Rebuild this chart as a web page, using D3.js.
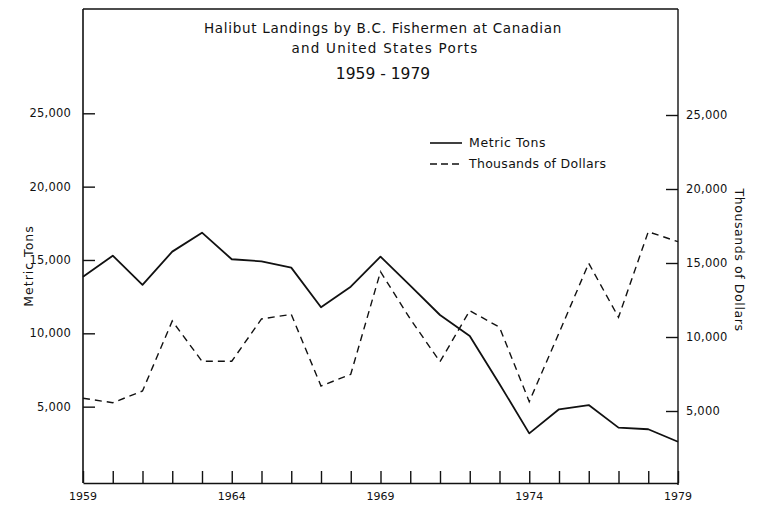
<!DOCTYPE html>
<html><head><meta charset="utf-8">
<script src="https://cdn.jsdelivr.net/npm/d3@7"></script>
<style>
body{margin:0;background:#fff;}
svg{display:block;}
text{font-family:"DejaVu Sans",sans-serif;fill:#111;}
</style></head>
<body><svg id="c" width="758" height="506"></svg>
<script>
const years = d3.range(1959, 1980);
const metricTons = [13860,15290,13300,15570,16860,15050,14910,14480,11780,13180,15230,13250,11250,9820,6550,3180,4820,5110,3570,3460,2610];
const thousandsDollars = [5860,5560,6350,11080,8360,8360,11220,11530,6690,7480,14410,11220,8330,11780,10660,5630,10270,14980,11330,17110,16440];
const yTicks = [5000,10000,15000,20000,25000];
const xLabelYears = [1959,1964,1969,1974,1979];
const titleLines = ["Halibut Landings by B.C. Fishermen at Canadian","and United States Ports","1959 - 1979"];
const seriesNames = ["Metric Tons","Thousands of Dollars"];

const svg = d3.select("#c");
const x = d3.scaleLinear().domain([1959,1979]).range([83,678]);
const yL = d3.scaleLinear().domain([0,25000]).range([480,113.3]);
const yR = d3.scaleLinear().domain([0,25000]).range([485,115]);
const frameTop = 9, frameBottom = 483;
const fmt = d3.format(",");

// frame
svg.append("line").attr("x1",83).attr("x2",678).attr("y1",frameTop).attr("y2",frameTop).attr("stroke","#111").attr("stroke-width",1.5);
svg.append("line").attr("x1",83).attr("x2",83).attr("y1",frameTop).attr("y2",frameBottom).attr("stroke","#111").attr("stroke-width",1.6);
svg.append("line").attr("x1",678).attr("x2",678).attr("y1",frameTop).attr("y2",frameBottom+2).attr("stroke","#111").attr("stroke-width",1.4);

// bottom axis with inward ticks
const gx = svg.append("g").attr("transform",`translate(0,${frameBottom})`)
  .call(d3.axisBottom(x).tickValues(years).tickSizeInner(-12).tickSizeOuter(0).tickFormat(""));
gx.select(".domain").attr("stroke","#111").attr("stroke-width",1.6);
gx.selectAll(".tick line").attr("stroke","#111").attr("stroke-width",1.4);
svg.append("g").selectAll("text").data(xLabelYears).join("text")
  .attr("x",d=>x(d)).attr("y",500).attr("text-anchor","middle")
  .attr("font-size",11).text(d=>d);

// left axis
const gl = svg.append("g").attr("transform","translate(83,0)")
  .call(d3.axisLeft(yL).tickValues(yTicks).tickSizeInner(-12).tickSizeOuter(0).tickFormat(""));
gl.select(".domain").remove();
gl.selectAll(".tick line").attr("stroke","#111").attr("stroke-width",1.4);
svg.append("g").selectAll("text").data(yTicks).join("text")
  .attr("x",71).attr("y",d=>yL(d)).attr("dy","0.35em").attr("text-anchor","end")
  .attr("font-size",11.5).attr("letter-spacing",0.2).text(d=>fmt(d));

// right axis
const gr = svg.append("g").attr("transform","translate(678,0)")
  .call(d3.axisRight(yR).tickValues(yTicks).tickSizeInner(-12).tickSizeOuter(0).tickFormat(""));
gr.select(".domain").remove();
gr.selectAll(".tick line").attr("stroke","#111").attr("stroke-width",1.4);
svg.append("g").selectAll("text").data(yTicks).join("text")
  .attr("x",686).attr("y",d=>yR(d)).attr("dy","0.35em").attr("text-anchor","start")
  .attr("font-size",11.5).attr("letter-spacing",0.2).text(d=>fmt(d));

// axis titles
svg.append("text").attr("transform","translate(33,266) rotate(-90)").attr("text-anchor","middle")
  .attr("font-size",12.5).attr("letter-spacing",1).text(seriesNames[0]);
svg.append("text").attr("transform","translate(735,260) rotate(90)").attr("text-anchor","middle")
  .attr("font-size",12.5).attr("letter-spacing",0.6).text(seriesNames[1]);

// title
svg.append("text").attr("x",383).attr("y",33).attr("text-anchor","middle").attr("font-size",13.5).attr("letter-spacing",0.7).text(titleLines[0]);
svg.append("text").attr("x",385).attr("y",53).attr("text-anchor","middle").attr("font-size",13.5).attr("letter-spacing",1.2).text(titleLines[1]);
svg.append("text").attr("x",383).attr("y",79).attr("text-anchor","middle").attr("font-size",15.5).text(titleLines[2]);

// lines
const lineL = d3.line().x((d,i)=>x(years[i])).y(d=>yL(d));
const lineR = d3.line().x((d,i)=>x(years[i])).y(d=>yR(d));
svg.append("path").datum(metricTons).attr("d",lineL).attr("fill","none").attr("stroke","#111").attr("stroke-width",1.8).attr("stroke-linejoin","round");
svg.append("path").datum(thousandsDollars).attr("d",lineR).attr("fill","none").attr("stroke","#111").attr("stroke-width",1.4).attr("stroke-dasharray","7,5");

// legend
const lg = svg.append("g");
lg.append("line").attr("x1",430).attr("x2",462).attr("y1",143).attr("y2",143).attr("stroke","#111").attr("stroke-width",1.6);
lg.append("line").attr("x1",430).attr("x2",462).attr("y1",164).attr("y2",164).attr("stroke","#111").attr("stroke-width",1.4).attr("stroke-dasharray","7,4");
lg.append("text").attr("x",469).attr("y",147).attr("font-size",12.5).attr("letter-spacing",0.6).text(seriesNames[0]);
lg.append("text").attr("x",469).attr("y",168).attr("font-size",12.5).attr("letter-spacing",0.3).text(seriesNames[1]);
</script></body></html>
